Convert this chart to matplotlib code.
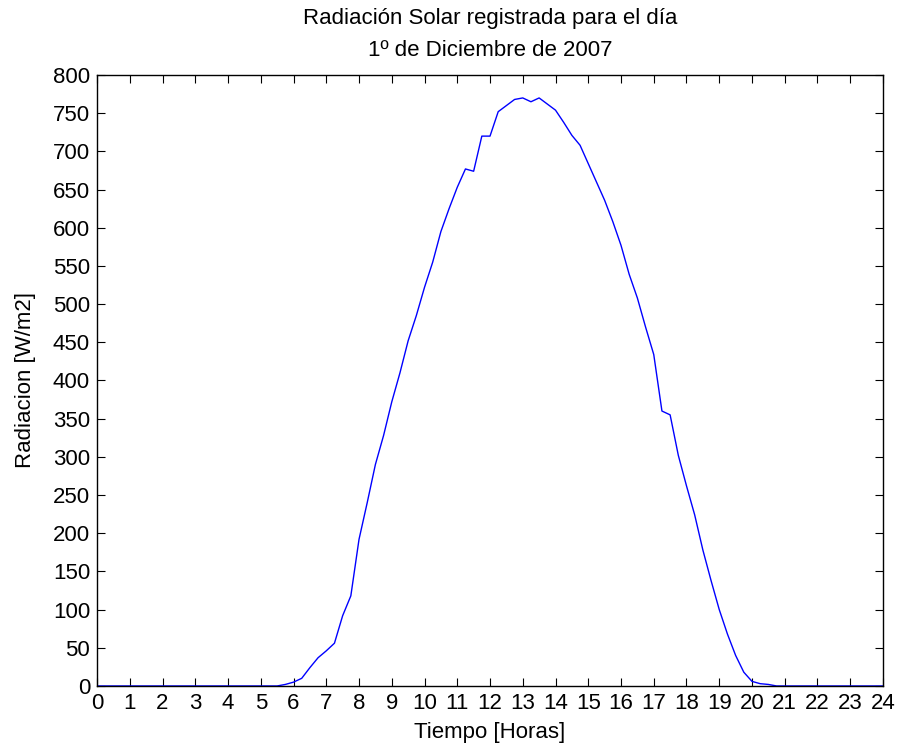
import matplotlib.pyplot as plt
import numpy as np

# 15-minute samples of solar radiation, 00:00 to 24:00
horas = np.arange(0, 24.01, 0.25)
radiacion = [0] * 22 + [
    0, 2, 5, 10, 24, 37, 46, 56, 92, 118,            # 5.50 - 7.75
    192, 240, 290, 328, 372, 410, 452, 485,           # 8.00 - 9.75
    522, 555, 595, 625, 653, 677, 674, 720,           # 10.00 - 11.75
    720, 752, 760, 768, 770, 765, 770, 762,           # 12.00 - 13.75
    754, 738, 721, 708, 684, 660, 636, 608,           # 14.00 - 15.75
    577, 539, 508, 470, 434, 360, 355, 302,           # 16.00 - 17.75
    262, 224, 178, 138, 100, 68, 40, 18,              # 18.00 - 19.75
    6, 3, 2, 0,                                       # 20.00 - 20.75
] + [0] * 13

xticks = list(range(0, 25))
yticks = list(range(0, 801, 50))

plt.rcParams['font.family'] = ['Liberation Sans', 'DejaVu Sans']
plt.rcParams['font.size'] = 16

fig = plt.figure(figsize=(9.06, 7.51), dpi=100)
ax = fig.add_axes([0.1071, 0.0866, 0.8675, 0.8135])

ax.plot(horas, radiacion, color='#0000ff', linewidth=1.0)

ax.set_xlim(0, 24)
ax.set_ylim(0, 800)
ax.set_xticks(xticks)
ax.set_yticks(yticks)
ax.tick_params(direction='in', top=True, right=True, length=6, width=0.8, pad=5)
for s in ax.spines.values():
    s.set_linewidth(1.0)

ax.set_title('Radiación Solar registrada para el día\n1º de Diciembre de 2007',
             fontsize=16, pad=14, linespacing=1.65)
ax.set_xlabel('Tiempo [Horas]', labelpad=6)
ax.set_ylabel('Radiacion [W/m2]', labelpad=12)

fig.savefig('out.png', dpi=100)
